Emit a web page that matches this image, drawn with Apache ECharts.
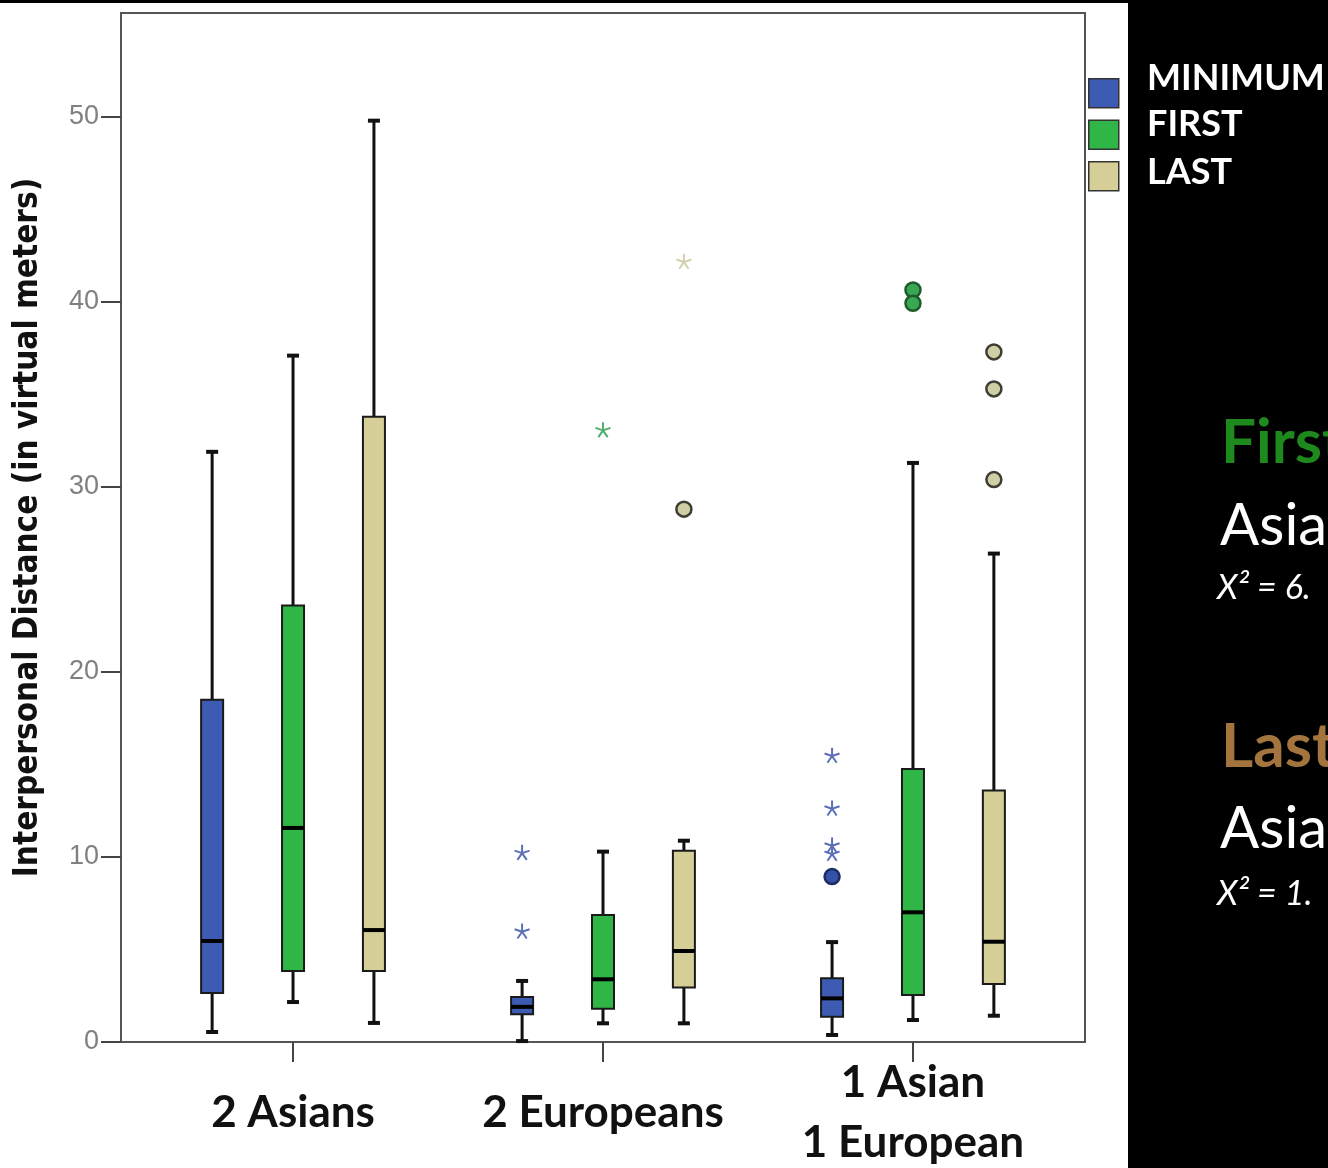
<!DOCTYPE html>
<html>
<head>
<meta charset="utf-8">
<script src="https://cdn.jsdelivr.net/npm/echarts@6/dist/echarts.min.js"></script>
<style>
html,body{margin:0;padding:0;background:#000;}
#chart{width:1328px;height:1168px;}
</style>
</head>
<body>
<div id="chart"></div>
<script>
// ---- data ----
const categories = ['2 Asians', '2 Europeans', '1 Asian\n1 European'];
const seriesNames = ['MINIMUM', 'FIRST', 'LAST'];
const yTicks = [0, 10, 20, 30, 40, 50];
// box stats per category: [min, q1, median, q3, max]
const minimumBox = [[0.54, 2.65, 5.46, 18.5, 31.9], [0.05, 1.5, 1.9, 2.43, 3.3], [0.38, 1.37, 2.36, 3.44, 5.4]];
const firstBox   = [[2.16, 3.84, 11.57, 23.6, 37.1], [1.01, 1.8, 3.39, 6.86, 10.29], [1.19, 2.54, 7.01, 14.76, 31.3]];
const lastBox    = [[1.03, 3.84, 6.05, 33.8, 49.8], [1.01, 2.94, 4.92, 10.34, 10.88], [1.42, 3.14, 5.42, 13.59, 26.4]];
// outliers (circles) and extremes (stars): [categoryIndex, value]
const minimumOutliers = [[2, 8.94]];
const minimumExtremes = [[1, 10.25], [1, 6.0], [2, 15.5], [2, 12.65], [2, 10.65], [2, 10.2]];
const firstOutliers = [[2, 40.65], [2, 39.93]];
const firstExtremes = [[1, 33.1]];
const lastOutliers = [[1, 28.8], [2, 37.3], [2, 35.3], [2, 30.4]];
const lastExtremes = [[1, 42.2]];

// ---- styling ----
const boxColors = ['#3e5bb3', '#2fb646', '#d5cf97'];
const starColors = ['#5b6fb8', '#4fae6c', '#d3d1ad'];
const circleFill = ['#3650a6', '#3aa852', '#cfcea4'];
const circleBorder = ['#1c2a66', '#1d5b2b', '#3d3d33'];
const offsets = [-0.261, 0, 0.261];
const boxes = [minimumBox, firstBox, lastBox];
const outs = [minimumOutliers, firstOutliers, lastOutliers];
const extr = [minimumExtremes, firstExtremes, lastExtremes];
const starPath = 'path://M0,0L0,-1M0,0L0.951,-0.309M0,0L0.588,0.809M0,0L-0.588,0.809M0,0L-0.951,-0.309';

function renderBox(params, api) {
  const x = api.value(0);
  const pMin = api.coord([x, api.value(1)]);
  const pQ1 = api.coord([x, api.value(2)]);
  const pMed = api.coord([x, api.value(3)]);
  const pQ3 = api.coord([x, api.value(4)]);
  const pMax = api.coord([x, api.value(5)]);
  const cx = pMin[0];
  const hw = 11, cap = 6;
  const color = api.visual('color');
  return {
    type: 'group',
    children: [
      {type: 'line', shape: {x1: cx, y1: pMax[1], x2: cx, y2: pQ3[1]}, style: {stroke: '#111', lineWidth: 3}},
      {type: 'line', shape: {x1: cx, y1: pQ1[1], x2: cx, y2: pMin[1]}, style: {stroke: '#111', lineWidth: 3}},
      {type: 'line', shape: {x1: cx - cap, y1: pMax[1], x2: cx + cap, y2: pMax[1]}, style: {stroke: '#111', lineWidth: 4}},
      {type: 'line', shape: {x1: cx - cap, y1: pMin[1], x2: cx + cap, y2: pMin[1]}, style: {stroke: '#111', lineWidth: 4}},
      {type: 'rect', shape: {x: cx - hw, y: pQ3[1], width: 2 * hw, height: pQ1[1] - pQ3[1]}, style: {fill: color, stroke: '#1a1a1a', lineWidth: 2}},
      {type: 'line', shape: {x1: cx - hw, y1: pMed[1], x2: cx + hw, y2: pMed[1]}, style: {stroke: '#000', lineWidth: 4}}
    ]
  };
}

const series = [];
seriesNames.forEach((name, s) => {
  series.push({
    name: name,
    type: 'custom',
    renderItem: renderBox,
    itemStyle: {color: boxColors[s], borderColor: '#222', borderWidth: 1.5},
    encode: {x: 0, y: [1, 2, 3, 4, 5]},
    data: boxes[s].map((b, i) => [i + 1 + offsets[s]].concat(b)),
    z: 3
  });
});
seriesNames.forEach((name, s) => {
  series.push({
    name: name + ' outliers',
    type: 'scatter',
    symbol: 'circle',
    symbolSize: 15,
    itemStyle: {color: circleFill[s], borderColor: circleBorder[s], borderWidth: 2.5, opacity: 1},
    data: outs[s].map(o => [o[0] + 1 + offsets[s], o[1]]),
    z: 4
  });
  series.push({
    name: name + ' extremes',
    type: 'scatter',
    symbol: starPath,
    symbolSize: 15,
    itemStyle: {color: 'none', borderColor: starColors[s], borderWidth: 2, opacity: 1},
    data: extr[s].map(o => [o[0] + 1 + offsets[s], o[1]]),
    z: 4
  });
});

const chart = echarts.init(document.getElementById('chart'), null, {renderer: 'canvas'});
chart.setOption({
  backgroundColor: '#000',
  animation: false,
  grid: {left: 121, right: 243, top: 13, bottom: 126, containLabel: false, outerBoundsMode: 'none',
         show: true, backgroundColor: '#fff', borderColor: '#555', borderWidth: 2},
  xAxis: {
    type: 'value',
    min: 0.445,
    max: 3.555,
    splitLine: {show: false},
    axisLine: {show: true, onZero: false, lineStyle: {color: '#555', width: 2}},
    axisTick: {show: true, customValues: [1, 2, 3], length: 20, lineStyle: {color: '#444', width: 2}},
    axisLabel: {
      customValues: [1, 2, 3],
      formatter: v => categories[Math.round(v) - 1] || '',
      color: '#111', fontFamily: 'Lato', fontWeight: 'bold', fontSize: 44,
      lineHeight: 60, verticalAlign: 'middle', margin: 71
    }
  },
  yAxis: {
    type: 'value',
    min: 0,
    max: 55.62,
    name: 'Interpersonal Distance (in virtual meters)',
    nameLocation: 'middle',
    nameGap: 76,
    nameTextStyle: {color: '#111', fontFamily: '"Liberation Sans Narrow", "DejaVu Sans Condensed", Lato', fontWeight: 'bold', fontSize: 33},
    splitLine: {show: false},
    axisLine: {show: true, lineStyle: {color: '#555', width: 2}},
    axisTick: {show: true, customValues: yTicks, length: 20, lineStyle: {color: '#444', width: 2}},
    axisLabel: {customValues: yTicks, color: '#808080', fontFamily: 'Liberation Sans', fontSize: 27, margin: 22}
  },
  legend: {
    orient: 'vertical',
    left: 1088,
    top: 78,
    padding: 0,
    icon: 'rect',
    itemWidth: 30,
    itemHeight: 29,
    itemGap: 11,
    data: seriesNames,
    formatter: () => '',
    textStyle: {fontSize: 1},
    itemStyle: {borderColor: '#333', borderWidth: 1.5}
  },
  graphic: [
    {type: 'rect', z: -10, shape: {x: 0, y: 3, width: 1128, height: 1165}, style: {fill: '#fff'}},
    {type: 'text', left: 1147, top: 60, style: {text: 'MINIMUM', fill: '#fff', font: 'bold 36px Lato'}},
    {type: 'text', left: 1147, top: 106, style: {text: 'FIRST', fill: '#fff', font: 'bold 36px Lato'}},
    {type: 'text', left: 1147, top: 154, style: {text: 'LAST', fill: '#fff', font: 'bold 36px Lato'}},
    {type: 'text', x: 1221, y: 412, style: {text: 'First', fill: '#1e8a1e', font: 'bold 62px Lato'}},
    {type: 'text', x: 1220, y: 497, style: {text: 'Asia', fill: '#fff', font: '58px Lato'}},
    {type: 'text', x: 1217, y: 571, style: {text: 'X² = 6.', fill: '#fff', font: 'italic 34px Lato'}},
    {type: 'text', x: 1221, y: 716, style: {text: 'Last', fill: '#a4743f', font: 'bold 62px Lato'}},
    {type: 'text', x: 1220, y: 800, style: {text: 'Asia', fill: '#fff', font: '58px Lato'}},
    {type: 'text', x: 1217, y: 877, style: {text: 'X² = 1.', fill: '#fff', font: 'italic 34px Lato'}}
  ],
  series: series
});
</script>
</body>
</html>
